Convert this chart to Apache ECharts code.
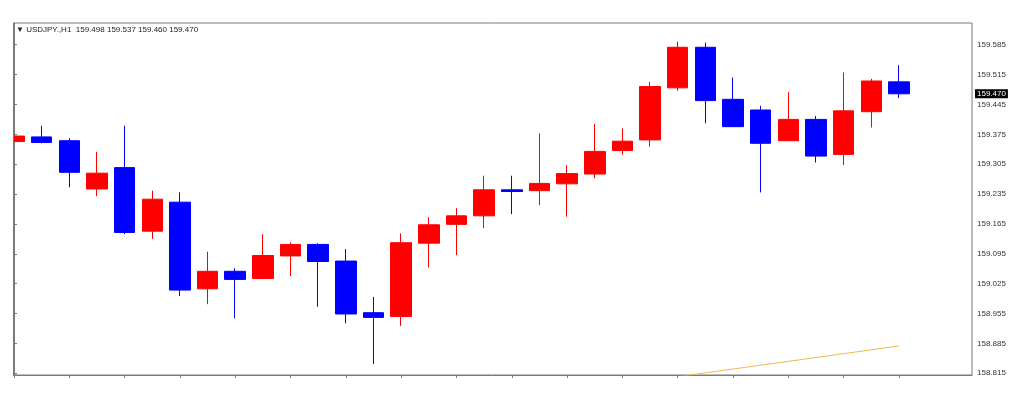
<!DOCTYPE html>
<html>
<head>
<meta charset="utf-8">
<script src="https://cdn.jsdelivr.net/npm/echarts@6/dist/echarts.min.js"></script>
<style>
html,body{margin:0;padding:0;background:#fff;}
#c{width:1024px;height:402px;}
</style>
</head>
<body>
<div id="c"></div>
<script>
// ---- data ----
const symbolName = 'USDJPY.,H1';
const barIndex = [0,1,2,3,4,5,6,7,8,9,10,11,12,13,14,15,16,17,18,19,20,21,22,23,24,25,26,27,28,29,30,31,32];
const opens  = [159.358,159.369,159.360,159.247,159.297,159.148,159.216,159.013,159.054,159.037,159.090,159.117,159.078,158.957,158.948,159.120,159.164,159.184,159.245,159.243,159.259,159.282,159.337,159.362,159.484,159.579,159.457,159.432,159.360,159.410,159.328,159.428,159.498];
const closes = [159.371,159.356,159.286,159.284,159.145,159.223,159.010,159.054,159.035,159.091,159.117,159.077,158.954,158.946,159.121,159.163,159.184,159.245,159.241,159.260,159.283,159.335,159.359,159.487,159.579,159.454,159.393,159.354,159.410,159.324,159.430,159.500,159.470];
const lows   = [159.338,159.354,159.251,159.230,159.141,159.130,158.996,158.977,158.944,159.036,159.043,158.971,158.932,158.837,158.926,159.063,159.092,159.155,159.188,159.209,159.182,159.272,159.327,159.346,159.477,159.401,159.392,159.239,159.360,159.309,159.303,159.391,159.460];
const highs  = [159.389,159.395,159.366,159.334,159.395,159.243,159.239,159.100,159.061,159.141,159.122,159.120,159.106,158.994,159.143,159.181,159.202,159.278,159.278,159.377,159.303,159.399,159.389,159.498,159.592,159.590,159.508,159.442,159.474,159.418,159.520,159.505,159.537];
const maIndex  = [23,24,25,26,27,28,29,30,31,32];
const maValues = [158.798,158.807,158.816,158.825,158.834,158.843,158.852,158.861,158.870,158.879];
const yTickLabels = ['158.815','158.885','158.955','159.025','159.095','159.165','159.235','159.305','159.375','159.445','159.515','159.585'];
const xTickIndex = [0,2,4,6,8,10,12,14,16,18,20,22,24,26,28,30,32];

const FONT = '"Liberation Sans", Arial, sans-serif';
const last = barIndex.length - 1;
const candleData = barIndex.map((x, i) => [x, opens[i], closes[i], lows[i], highs[i]]);
const maData = maIndex.map((x, i) => [x, maValues[i]]);
const yTickValues = yTickLabels.map(Number);
const titleText = '\u25BC ' + symbolName + '  ' + [opens[last], highs[last], lows[last], closes[last]].map(v => v.toFixed(3)).join(' ');

const GRID = {left: 13, top: 23, right: 52, bottom: 27};
const FRAME = '#7a7a7a';

const chart = echarts.init(document.getElementById('c'), null, {renderer: 'canvas'});
chart.setOption({
  animation: false,
  backgroundColor: '#ffffff',
  title: {
    text: titleText,
    left: 16, top: 25, padding: 0,
    textStyle: {fontFamily: FONT, fontSize: 8, fontWeight: 'normal', color: '#222', lineHeight: 10}
  },
  grid: {
    left: GRID.left, top: GRID.top, right: GRID.right, bottom: GRID.bottom,
    show: true, borderColor: FRAME, borderWidth: 1, backgroundColor: 'transparent',
    containLabel: false
  },
  graphic: [
    // mask the part of the first, partly hidden bar that lies left of the frame
    {type: 'rect', z: 100, left: 0, top: GRID.top - 2, shape: {width: GRID.left, height: 402 - GRID.top - GRID.bottom + 4}, style: {fill: '#ffffff'}},
    {type: 'line', z: 101, shape: {x1: GRID.left + 0.5, y1: GRID.top, x2: GRID.left + 0.5, y2: 402 - GRID.bottom}, style: {stroke: FRAME, lineWidth: 1}}
  ],
  xAxis: {
    type: 'value',
    min: -0.036, max: 34.64,
    axisLine: {show: true, lineStyle: {color: FRAME, width: 1}},
    axisTick: {show: true, inside: false, length: 3, customValues: xTickIndex, lineStyle: {color: FRAME}},
    axisLabel: {show: false},
    splitLine: {show: false}
  },
  yAxis: {
    type: 'value',
    position: 'right',
    min: 158.8110, max: 159.6359,
    scale: true,
    axisLine: {show: true, lineStyle: {color: FRAME, width: 1}},
    axisTick: {show: true, inside: false, length: 3, customValues: yTickValues, lineStyle: {color: FRAME}},
    axisLabel: {
      show: true, customValues: yTickValues, margin: 5,
      fontFamily: FONT, fontSize: 8, color: '#333',
      formatter: v => Number(v).toFixed(3)
    },
    splitLine: {show: false}
  },
  series: [
    {
      type: 'candlestick',
      data: candleData,
      encode: {x: 0, y: [1, 2, 3, 4]},
      barWidth: 21,
      clip: true,
      itemStyle: {
        color: '#ff0000', color0: '#0000ff',
        borderColor: '#ff0000', borderColor0: '#0000ff',
        borderWidth: 1
      },
      markLine: {
        silent: true,
        symbol: ['none', 'none'],
        lineStyle: {color: 'rgba(0,0,0,0)', width: 1, type: 'solid'},
        data: [{yAxis: closes[last]}],
        label: {
          show: true, position: 'end', distance: 3, opacity: 1,
          formatter: p => Number(p.value).toFixed(3),
          backgroundColor: '#000000', color: '#ffffff',
          fontFamily: FONT, fontSize: 8, lineHeight: 9, padding: [0, 2]
        }
      }
    },
    {
      type: 'line',
      data: maData,
      showSymbol: false,
      clip: true,
      lineStyle: {color: '#f2b84b', width: 1},
      z: 1
    }
  ]
});
</script>
</body>
</html>
